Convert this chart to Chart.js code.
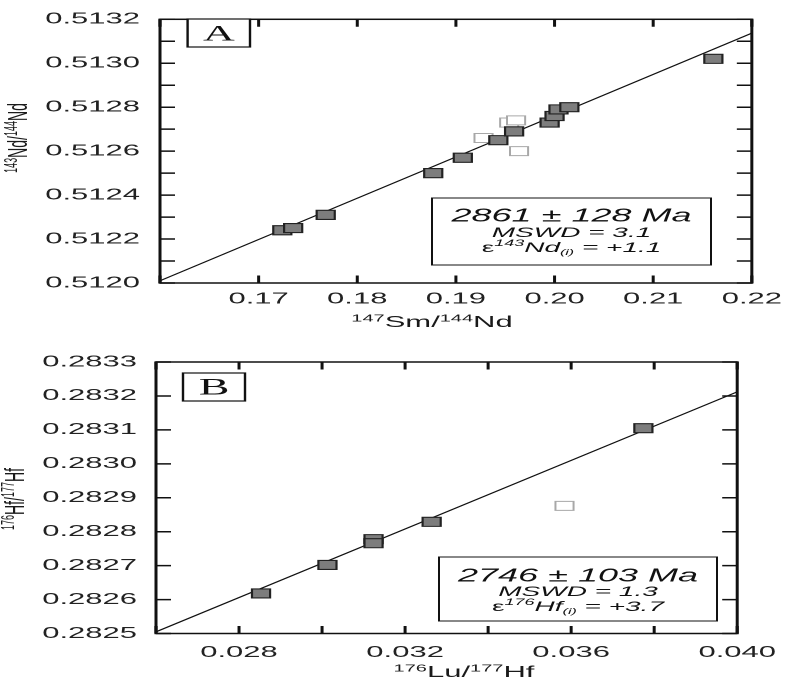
<!DOCTYPE html>
<html><head><meta charset="utf-8">
<script src="https://cdn.jsdelivr.net/npm/chart.js@4.4.1/dist/chart.umd.min.js"></script>
<style>
html,body{margin:0;padding:0;background:#fff;overflow:hidden;width:796px;height:683px;}
.wrap{position:absolute;left:0;transform:scaleX(2);transform-origin:0 0;}
#wa{top:0;}
#wb{top:330px;}
canvas{display:block;}
</style></head><body>
<div class="wrap" id="wa"><canvas id="ca" width="398" height="330"></canvas></div>
<div class="wrap" id="wb"><canvas id="cb" width="398" height="353"></canvas></div>
<script>
// ---------- Panel A : 147Sm/144Nd vs 143Nd/144Nd ----------
const smFilled = [0.1724, 0.1735, 0.1768, 0.1877, 0.1907, 0.1943, 0.1959, 0.1995, 0.2000, 0.2004, 0.2015, 0.2161];
const ndFilled = [0.51224, 0.51225, 0.51231, 0.51250, 0.51257, 0.51265, 0.51269, 0.51273, 0.51276, 0.51279, 0.51280, 0.51302];
const smOpen = [0.1928, 0.1954, 0.1961, 0.1964];
const ndOpen = [0.51266, 0.51273, 0.51274, 0.51260];
const isoSmX = [0.16, 0.22];
const isoNdY = [0.51201, 0.513137];
const smTickValues = [0.16, 0.17, 0.18, 0.19, 0.20, 0.21, 0.22];
const smTickLabels = ['', '0.17', '0.18', '0.19', '0.20', '0.21', '0.22'];
const ndTickValues = [0.5120, 0.5121, 0.5122, 0.5123, 0.5124, 0.5125, 0.5126, 0.5127, 0.5128, 0.5129, 0.5130, 0.5131, 0.5132];
const ndTickLabels = ['0.5120', '', '0.5122', '', '0.5124', '', '0.5126', '', '0.5128', '', '0.5130', '', '0.5132'];

// ---------- Panel B : 176Lu/177Hf vs 176Hf/177Hf ----------
const luFilled = [0.02853, 0.03013, 0.03124, 0.03124, 0.03264, 0.03774];
const hfFilled = [0.282618, 0.282702, 0.282778, 0.282766, 0.282829, 0.283105];
const luOpen = [0.03584];
const hfOpen = [0.282876];
const isoLuX = [0.026, 0.040];
const isoHfY = [0.282505, 0.283212];
const luTickValues = [0.026, 0.028, 0.030, 0.032, 0.034, 0.036, 0.038, 0.040];
const luTickLabels = ['', '0.028', '', '0.032', '', '0.036', '', '0.040'];
const hfTickValues = [0.2825, 0.2826, 0.2827, 0.2828, 0.2829, 0.2830, 0.2831, 0.2832, 0.2833];
const hfTickLabels = ['0.2825', '0.2826', '0.2827', '0.2828', '0.2829', '0.2830', '0.2831', '0.2832', '0.2833'];

const SANS = '"Liberation Sans", Arial, Helvetica, sans-serif';
const SERIF = '"Liberation Serif", "Times New Roman", serif';

function fontOf(s) { return (s.i ? 'italic ' : '') + s.s + 'px ' + (s.f || SANS); }
function richWidth(ctx, segs) {
  let w = 0;
  segs.forEach(s => { ctx.font = fontOf(s); w += ctx.measureText(s.t).width; });
  return w;
}
function drawRich(ctx, segs, x, y) { // centered at x, baseline y
  const w = richWidth(ctx, segs);
  let cx = x - w / 2;
  ctx.textAlign = 'left'; ctx.textBaseline = 'alphabetic';
  segs.forEach(s => {
    ctx.font = fontOf(s);
    ctx.fillText(s.t, cx, y + (s.dy || 0));
    cx += ctx.measureText(s.t).width;
  });
}

const deco = {
  id: 'deco',
  afterDraw(chart, args, o) {
    const ctx = chart.ctx, a = chart.chartArea, sx = chart.scales.x, sy = chart.scales.y;
    ctx.save();
    ctx.strokeStyle = '#111'; ctx.lineWidth = 1.5;
    ctx.strokeRect(a.left, a.top, a.right - a.left, a.bottom - a.top);
    ctx.beginPath();
    sx.ticks.forEach(t => {
      const p = sx.getPixelForValue(t.value);
      ctx.moveTo(p, a.bottom); ctx.lineTo(p, a.bottom - o.tickLen);
      ctx.moveTo(p, a.top); ctx.lineTo(p, a.top + o.tickLen);
    });
    sy.ticks.forEach(t => {
      const p = sy.getPixelForValue(t.value);
      ctx.moveTo(a.left, p); ctx.lineTo(a.left + o.tickLen, p);
      ctx.moveTo(a.right, p); ctx.lineTo(a.right - o.tickLen, p);
    });
    ctx.stroke();

    // panel letter
    const L = o.letter;
    ctx.lineWidth = 1.2;
    ctx.fillStyle = '#fff';
    ctx.fillRect(L.x1, L.y1, L.x2 - L.x1, L.y2 - L.y1);
    ctx.strokeRect(L.x1, L.y1, L.x2 - L.x1, L.y2 - L.y1);
    ctx.fillStyle = '#111';
    drawRich(ctx, [{t: L.text, s: L.size, f: SERIF}], (L.x1 + L.x2) / 2, L.base);

    // result box
    const B = o.box;
    ctx.fillStyle = '#fff';
    ctx.fillRect(B.x1, B.y1, B.x2 - B.x1, B.y2 - B.y1);
    ctx.lineWidth = 1;
    ctx.strokeRect(B.x1, B.y1, B.x2 - B.x1, B.y2 - B.y1);
    ctx.fillStyle = '#111';
    B.lines.forEach(l => drawRich(ctx, l.segs, (B.x1 + B.x2) / 2, l.y));

    // axis titles
    ctx.fillStyle = '#1a1a1a';
    drawRich(ctx, o.xTitle.segs, o.xTitle.x, o.xTitle.y);
    ctx.save();
    ctx.translate(o.yTitle.x, o.yTitle.y);
    ctx.rotate(-Math.PI / 2);
    drawRich(ctx, o.yTitle.segs, 0, 5);
    ctx.restore();
    ctx.restore();
  }
};

function pts(xs, ys) { return xs.map((x, i) => ({x: x, y: ys[i]})); }

function makeChart(id, cfg) {
  return new Chart(document.getElementById(id), {
    type: 'scatter',
    data: {
      datasets: [
        {data: pts(cfg.fx, cfg.fy), pointStyle: 'rect', pointRadius: 6.4, pointBackgroundColor: '#7d7d7d',
         pointBorderColor: '#222', pointBorderWidth: 1.1, showLine: false, order: 0},
        {data: pts(cfg.lx, cfg.ly), showLine: true, pointRadius: 0, borderColor: '#111', borderWidth: 1, order: 1},
        {data: pts(cfg.ox, cfg.oy), pointStyle: 'rect', pointRadius: 6.4, pointBackgroundColor: '#fff',
         pointBorderColor: '#a8a8a8', pointBorderWidth: 1, showLine: false, order: 2}
      ]
    },
    options: {
      responsive: false,
      devicePixelRatio: 2,
      animation: false,
      layout: {padding: cfg.pad},
      plugins: {legend: {display: false}, tooltip: {enabled: false}, deco: cfg.deco},
      scales: {
        x: {
          type: 'linear', min: cfg.xv[0], max: cfg.xv[cfg.xv.length - 1],
          grid: {display: false, drawTicks: false}, border: {display: false},
          afterBuildTicks: s => { s.ticks = cfg.xv.map(v => ({value: v})); },
          afterFit: s => { s.height = cfg.xH; },
          ticks: {autoSkip: false, maxRotation: 0, padding: cfg.xPad, color: '#222',
                  font: {family: SANS, size: 15.5}, callback: (v, i) => cfg.xl[i]}
        },
        y: {
          type: 'linear', min: cfg.yv[0], max: cfg.yv[cfg.yv.length - 1],
          grid: {display: false, drawTicks: false}, border: {display: false},
          afterBuildTicks: s => { s.ticks = cfg.yv.map(v => ({value: v})); },
          afterFit: s => { s.width = cfg.yW; },
          ticks: {autoSkip: false, padding: cfg.yPad, color: '#222',
                  font: {family: SANS, size: 15.5}, callback: (v, i) => cfg.yl[i]}
        }
      }
    },
    plugins: [deco]
  });
}

makeChart('ca', {
  fx: smFilled, fy: ndFilled, ox: smOpen, oy: ndOpen, lx: isoSmX, ly: isoNdY,
  xv: smTickValues, xl: smTickLabels, yv: ndTickValues, yl: ndTickLabels,
  pad: {left: 0, top: 11, right: 22, bottom: 0}, xH: 47, yW: 80, xPad: 7, yPad: 10,
  deco: {
    tickLen: 7.5,
    letter: {text: 'A', x1: 93.8, y1: 19, x2: 125, y2: 47, size: 22, base: 40.5},
    box: {x1: 216, y1: 198, x2: 355.5, y2: 265, lines: [
      {y: 221.5, segs: [{t: '2861 ± 128 Ma', s: 18, i: true}]},
      {y: 237, segs: [{t: 'MSWD = 3.1', s: 14, i: true}]},
      {y: 252, segs: [{t: 'ε', s: 14}, {t: '143', s: 9, i: true, dy: -6}, {t: 'Nd', s: 14, i: true},
                      {t: '(i)', s: 8, i: true, dy: 3}, {t: ' = +1.1', s: 14, i: true}]}
    ]},
    xTitle: {x: 216, y: 327, segs: [{t: '147', s: 10, dy: -5.5}, {t: 'Sm/', s: 15.5}, {t: '144', s: 10, dy: -5.5}, {t: 'Nd', s: 15.5}]},
    yTitle: {x: 8.5, y: 138, segs: [{t: '143', s: 9, dy: -5}, {t: 'Nd/', s: 14}, {t: '144', s: 9, dy: -5}, {t: 'Nd', s: 14}]}
  }
});

makeChart('cb', {
  fx: luFilled, fy: hfFilled, ox: luOpen, oy: hfOpen, lx: isoLuX, ly: isoHfY,
  xv: luTickValues, xl: luTickLabels, yv: hfTickValues, yl: hfTickLabels,
  pad: {left: 0, top: 32, right: 24.5, bottom: 0}, xH: 49.5, yW: 78, xPad: 10, yPad: 9.5,
  deco: {
    tickLen: 7.5,
    letter: {text: 'B', x1: 91.5, y1: 43, x2: 122.5, y2: 71, size: 23, base: 64.5},
    box: {x1: 219.5, y1: 227, x2: 358.5, y2: 291, lines: [
      {y: 251.5, segs: [{t: '2746 ± 103 Ma', s: 18, i: true}]},
      {y: 266, segs: [{t: 'MSWD = 1.3', s: 14, i: true}]},
      {y: 281, segs: [{t: 'ε', s: 14}, {t: '176', s: 9, i: true, dy: -6}, {t: 'Hf', s: 14, i: true},
                      {t: '(i)', s: 8, i: true, dy: 3}, {t: ' = +3.7', s: 14, i: true}]}
    ]},
    xTitle: {x: 232, y: 347, segs: [{t: '176', s: 10, dy: -5.5}, {t: 'Lu/', s: 15.5}, {t: '177', s: 10, dy: -5.5}, {t: 'Hf', s: 15.5}]},
    yTitle: {x: 7, y: 169, segs: [{t: '176', s: 9, dy: -5}, {t: 'Hf/', s: 14}, {t: '177', s: 9, dy: -5}, {t: 'Hf', s: 14}]}
  }
});
</script>
</body></html>
